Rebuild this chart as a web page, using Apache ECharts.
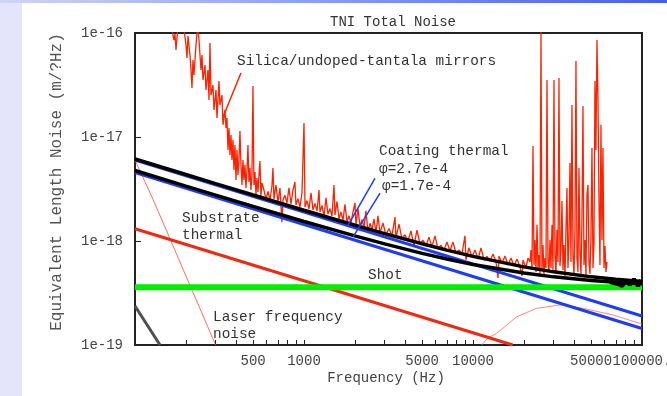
<!DOCTYPE html>
<html>
<head>
<meta charset="utf-8">
<title>TNI Total Noise</title>
<script src="https://cdn.jsdelivr.net/npm/echarts@6/dist/echarts.min.js"></script>
<style>
  html, body { margin: 0; padding: 0; }
  body {
    width: 667px; height: 396px; overflow: hidden; position: relative;
    background: linear-gradient(to right, #cfd5f8, #3f5ff0) 0 0 / 100% 3px no-repeat, #e4e4fa;
  }
  #paper { position: absolute; left: 22px; top: 3px; right: 0; bottom: 0; background: #fff; }
  #chart { position: absolute; left: 0; top: 0; width: 667px; height: 396px; }
</style>
</head>
<body>
<div id="paper"></div>
<div id="chart"></div>
<script>
// amplitudes are in units of 1e-18 m/rtHz, frequencies in Hz

// measured spectrum (silica / undoped tantala mirrors)
const measured = [
  [165.5,107],[170,85.6],[172.4,97.8],[174.8,68.6],[177.2,89.5],[179.6,110],[194.9,110],[200.3,76.7],
  [203.0,57.5],[205.8,93.6],[211.5,61.4],[214.4,44.1],[217.4,29.6],[220.3,55.0],[223.4,39.5],[229.5,76.7],
  [232.7,100],[235.9,110],[239.1,85.6],[245.7,44.1],[249.1,61.4],[252.5,35.3],[259.5,49.2],[263.0,28.3],
  [270.3,44.1],[274.0,22.7],[277.8,80.1],[281.6,25.3],[289.3,31.6],[293.3,18.2],[301.4,28.3],[305.5,15.2],
  [314.0,34.6],[318.3,20.3],[327.1,25.3],[331.6,13.1],[340.7,18.2],[345.4,12.2],[350.1,15.2],[354.9,7.50],
  [359.8,12.2],[364.7,6.71],[369.7,10.45],[374.8,6.01],[379.9,9.36],[385.1,4.82],[390.4,8.38],[395.8,3.86],
  [401.2,7.50],[406.7,4.31],[412.3,6.01],[417.9,11.42],[423.7,5.38],[429.5,3.46],[435.4,6.01],[441.3,3.86],
  [447.4,5.38],[453.5,3.23],[459.8,4.82],[466.1,8.38],[472.4,3.69],[478.9,5.03],[485.5,3.09],[492.2,4.31],
  [498.9,30.9],[505.7,3.46],[512.7,4.61],[519.7,2.77],[526.8,4.03],[534.1,2.96],[541.4,4.31],[548.8,5.88],
  [556.3,2.71],[564.0,3.61],
  [579.5,3.09],[595.6,2.53],[612.0,3.0],[628.9,2.48],[646.3,3.38],[655.1,5.03],[664.1,2.53],[682.5,3.45],
  [701.3,2.37],[720.7,3.23],[740.6,1.52],[750.7,2.48],[771.5,2.75],[792.8,2.32],[814.7,3.25],[837.2,2.27],
  [860.3,3.09],[884.0,3.69],[896.2,2.22],[920.9,2.55],[946.3,2.12],[972.5,2.89],[1000,13.6],[1013.7,2.12],
  [1041.7,2.45],[1070.5,2.03],[1100,2.9],[1130.4,1.99],[1161.6,2.3],[1193.7,1.94],[1226.7,3.09],[1243.5,1.90],
  [1277.9,2.2],[1313.1,1.72],[1349.4,2.6],[1386.7,1.82],[1425.0,2.05],[1464.3,1.74],[1504.7,3.46],[1525.4,1.78],
  [1567.5,2.4],[1610.8,1.63],[1655.3,1.9],[1701.0,1.59],[1748.0,2.25],[1796.2,1.52],[1845.8,1.75],[1896.8,1.49],
  [1949.2,1.90],[2003.0,2.32],[2030.5,1.43],[2086.6,2.05],[2144.2,1.39],[2203.4,1.6],[2264.2,1.36],[2326.8,1.95],
  [2391.0,1.22],[2457.1,1.48],[2524.9,1.28],[2594.6,1.63],[2666.3,1.22],[2739.9,1.75],[2815.6,1.19],[2933.0,1.49],
  [3055.4,1.14],[3182.8,1.32],[3315.5,1.12],[3453.8,1.70],[3501.2,1.07],[3647.2,1.45],[3799.3,1.05],[3957.8,1.15],
  [4122.8,1.00],[4294.8,1.25],[4473.9,0.90],[4660.5,1.27],[4854.9,0.936],[5057.4,1.02],[5268.4,0.895],[5488.1,1.09],
  [5717.0,0.876],[5955.5,1.12],[6203.9,0.838],[6462.7,0.91],[6732.2,0.819],[7013.0,0.978],[7305.5,0.801],[7610.2,0.98],
  [7927.7,0.767],[8258.3,0.82],[8602.8,0.750],[8961.6,1.12],[9084.5,0.66],[9463.4,0.856],[9858.2,0.702],[10276,0.819],
  [10705,0.671],[11151,0.86],[11616,0.657],[12101,0.71],[12606,0.642],[13131,0.750],[13679,0.628],[14057,0.441],
  [14250,0.717],[14844,0.614],[15463,0.717],[16108,0.588],[16780,0.686],[17480,0.575],[18209,0.671],[18968,0.562],
  [19492,0.461],[19759,0.657],[20583,0.550],[21152,0.686],
  [21736,0.628],[22034,0.819],[22336,0.526],[22642,8.19],[22953,0.588],[23268,1.02],[23587,0.503],[23910,1.43],
  [24238,0.550],[24571,0.734],[24908,0.482],[25249,107],[25595,0.526],[25946,0.915],[26302,0.471],[26663,0.686],
  [27029,0.550],[27399,35.3],[27775,0.628],[28156,0.503],[28542,1.02],[28933,0.550],[29330,1.43],[29732,0.526],
  [30140,35.3],[30554,0.734],[30973,0.482],[31397,1.28],[31828,0.628],[32264,36.9],[32707,0.575],[33155,0.819],
  [33610,2.42],[34071,0.526],[34538,0.915],[35012,0.461],[35492,1.28],[35979,3.23],[36472,0.550],[36972,1.02],
  [37479,5.62],[37993,0.628],[38514,20.3],[39043,0.734],[39578,0.471],[40120,1.28],[40671,53.8],[41228,0.686],
  [41794,0.503],[42367,5.03],[42948,0.819],[43537,0.471],[44134,1.59],[44739,19.9],[45353,0.588],[45975,1.02],
  [46605,0.461],[47244,2.77],[47892,3.46],[48549,0.628],[49215,0.482],[49890,1.14],[50574,7.84],[51268,0.550],
  [51971,0.915],[52684,34.6],[53406,7.50],[54139,85.6],[54881,24.2],[55634,2.48],[56397,0.588],[57170,13.1],
  [57954,1.02],[58749,7.84],[59555,0.550],[60372,0.895],[61200,0.503],[62039,0.628]
];

// total noise curves (two coating loss angles)
const totalHigh = [[100,6.15],[200,4.36],[300,3.564],[500,2.77],[700,2.349],[1000,1.975],[2000,1.42],[3000,1.177],
  [5000,0.940],[7000,0.817],[10000,0.711],[20000,0.564],[30000,0.505],[50000,0.452],[70000,0.428],[100000,0.408]];
const totalLow = [[100,4.76],[200,3.37],[300,2.763],[500,2.15],[700,1.829],[1000,1.54],[2000,1.12],[3000,0.938],
  [5000,0.761],[7000,0.671],[10000,0.595],[20000,0.492],[30000,0.452],[50000,0.417],[70000,0.402],[100000,0.389]];
const totalTail = [[64627,0.403],[72067,0.386],[76102,0.369],[80364,0.4125],[84864,0.378],[89616,0.431],[94634,0.369],[98582,0.422]];

const coatingHigh = [[100,6.0],[100000,0.19]];
const coatingLow = [[100,4.56],[100000,0.144]];
const substrate = [[100,1.31],[17180,0.1]];
const shot = [[100,0.359],[100000,0.359]];
const laserFreq = [[100,6.0],[128.3,2.48],[300,0.1]];
const lowFreqGray = [[100,0.237],[140.6,0.1]];
const highFreqArc = [[11250,0.1],[12270,0.117],[13810,0.1294],[18150,0.187],[23820,0.225],[32730,0.243],
  [44970,0.225],[67610,0.194],[100000,0.159]];

// pointer lines from the labels
const silicaPointer = [[423.6,41.2],[333.2,15.8]];
const phiHighPointer = [[2630,4.01],[1803,1.372]];
const phiLowPointer = [[2817,2.88],[1957,1.10]];

// axis ticks and labels
const xLabelFreqs = [500, 1000, 5000, 10000, 50000, 100000];
const xLabelTexts = ['500', '1000', '5000', '10000', '50000', '100000.'];
const xTickFreqs = [200,300,400,500,600,700,800,900,1000,2000,3000,4000,5000,6000,7000,8000,9000,
  10000,20000,30000,40000,50000,60000,70000,80000,90000];

const mono = '"Liberation Mono", "DejaVu Sans Mono", monospace';
const ink = '#333';

const notes = [
  { text: 'Silica/undoped-tantala mirrors', x: 237, y: 61 },
  { text: 'Coating thermal', x: 379, y: 151 },
  { text: 'φ=2.7e-4', x: 379, y: 169 },
  { text: 'φ=1.7e-4', x: 382, y: 186 },
  { text: 'Substrate', x: 182, y: 218 },
  { text: 'thermal', x: 182, y: 235 },
  { text: 'Shot', x: 368, y: 275 },
  { text: 'Laser frequency', x: 213, y: 317 },
  { text: 'noise', x: 213, y: 334 }
];

function line(data, color, width, z) {
  return {
    type: 'line', data: data, symbol: 'none', silent: true, z: z,
    lineStyle: { color: color, width: width }
  };
}

const chart = echarts.init(document.getElementById('chart'));
const option = {
  animation: false,
  title: {
    text: 'TNI Total Noise', left: 325, top: 10,
    textStyle: { fontFamily: mono, fontSize: 14, fontWeight: 'normal', color: ink }
  },
  grid: {
    left: 135, top: 33, width: 507, height: 312,
    containLabel: false, outerBoundsMode: 'none',
    show: true, borderColor: '#222', borderWidth: 2, backgroundColor: 'transparent'
  },
  xAxis: {
    type: 'log', logBase: 10, min: 100, max: 100000,
    axisLine: { show: false },
    splitLine: { show: false },
    axisTick: { show: true, inside: true, length: 5, customValues: xTickFreqs, lineStyle: { color: '#222', width: 1 } },
    axisLabel: {
      customValues: xLabelFreqs, margin: 9, hideOverlap: false, showMaxLabel: true,
      fontFamily: mono, fontSize: 14, color: '#444',
      formatter: function (v) {
        const i = xLabelFreqs.indexOf(Math.round(v));
        return i >= 0 ? xLabelTexts[i] : '';
      }
    }
  },
  yAxis: {
    type: 'log', logBase: 10, min: 0.1, max: 100,
    axisLine: { show: false },
    splitLine: { show: false },
    axisTick: { show: true, inside: true, length: 6, lineStyle: { color: '#222', width: 1 } },
    axisLabel: {
      margin: 12, fontFamily: mono, fontSize: 14, color: '#444',
      formatter: function (v) { return '1e' + (Math.round(Math.log10(v)) - 18); }
    }
  },
  graphic: notes.map(function (n) {
    return { type: 'text', x: n.x, y: n.y, silent: true,
      style: { text: n.text, font: '14.4px ' + mono, fill: ink, align: 'left', verticalAlign: 'middle' } };
  }).concat([
    { type: 'text', x: 57, y: 182, rotation: Math.PI / 2, silent: true,
      style: { text: 'Equivalent Length Noise (m/?Hz)', font: '16px ' + mono, fill: '#555', align: 'center', verticalAlign: 'middle' } },
    { type: 'text', x: 386, y: 378, silent: true,
      style: { text: 'Frequency (Hz)', font: '14px ' + mono, fill: '#444', align: 'center', verticalAlign: 'middle' } }
  ]),
  series: [
    line(measured, '#ff2200', 1.3, 2),
    line(laserFreq, '#ff4a3a', 0.8, 3),
    line(highFreqArc, '#ff6a60', 0.8, 3),
    line(substrate, '#f02a10', 3, 4),
    line(coatingHigh, '#1f3cf5', 3, 5),
    line(coatingLow, '#1f3cf5', 3, 5),
    line(shot, '#00ee00', 6, 6),
    line(lowFreqGray, '#505050', 3, 6),
    line(totalHigh, '#000', 3.5, 7),
    line(totalLow, '#000', 3.5, 7),
    line(totalTail, '#000', 4, 7),
    line(silicaPointer, '#ff2200', 1.5, 8),
    line(phiHighPointer, '#1f3cf5', 1.5, 8),
    line(phiLowPointer, '#1f3cf5', 1.5, 8)
  ]
};
chart.setOption(option);
</script>
</body>
</html>
